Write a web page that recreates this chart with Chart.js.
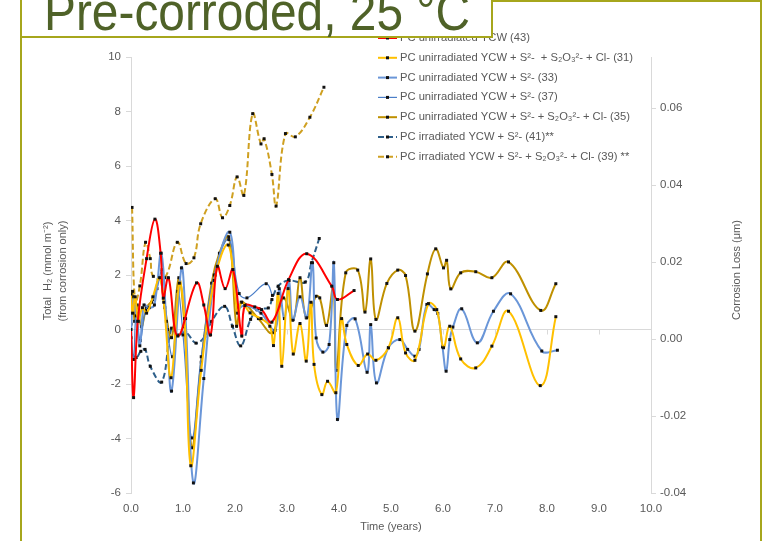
<!DOCTYPE html>
<html><head><meta charset="utf-8">
<script src="https://cdn.jsdelivr.net/npm/chart.js@4"></script>
<style>
html,body{margin:0;padding:0;background:#fff;overflow:hidden}
#wrap{position:relative;width:765px;height:541px;overflow:hidden}
canvas{position:absolute;left:0;top:0}
#frame{position:absolute;left:20px;top:0px;width:742px;height:620px;border:2px solid #A6A61C;box-sizing:border-box;z-index:1}
#tbox{position:absolute;left:20px;top:-40px;width:473px;height:78px;border:2px solid #A6A61C;background:#fff;box-sizing:border-box;z-index:2}
#title{position:absolute;left:44px;top:-16px;font-family:"Liberation Sans",Arial,sans-serif;font-size:54px;line-height:54px;color:#4F6228;white-space:nowrap;z-index:3;transform-origin:0 0}
</style></head>
<body><div id="wrap">
<canvas id="c" width="765" height="541"></canvas>
<div id="frame"></div>
<div id="tbox"></div>
<div id="title">Pre-corroded, 25 °C</div>
</div>
<script>
// ---- data (time in years, total H2 in mmol m-2) ----
const t43 = [0.0,0.05,0.13,0.3,0.46,0.57,0.62,0.72,0.9,1.26,1.4,1.53,1.66,1.81,1.96,2.13,2.19,2.38,2.51,2.71,3.03,3.38,3.86,3.97,4.29];
const h43 = [0.0,-2.5,0.3,2.6,4.05,2.8,1.15,1.9,-0.24,1.71,0.9,-0.2,2.32,1.5,2.2,-0.24,0.88,0.83,0.73,0.27,1.83,2.78,1.59,1.1,1.43];

const t31 = [0.0,0.03,0.08,0.14,0.22,0.3,0.42,0.55,0.63,0.77,0.93,1.03,1.15,1.35,1.6,1.87,2.05,2.13,2.29,2.5,2.67,2.74,2.83,2.9,3.02,3.12,3.25,3.37,3.46,3.52,3.67,3.78,3.94,4.05,4.15,4.37,4.55,4.71,4.95,5.13,5.28,5.46,5.72,5.88,6.01,6.13,6.34,6.63,6.94,7.26,7.87,8.17];
const h31 = [1.3,0.6,1.2,0.3,0.8,0.6,1.2,1.9,1.0,-1.77,1.7,0.4,-5.0,-1.5,1.8,3.1,0.6,1.0,0.61,0.4,0.12,-0.59,1.32,-1.35,1.5,-0.9,0.22,-1.16,1.0,-1.28,-2.39,-1.9,-2.32,0.4,-0.55,-1.32,-0.9,-1.13,-0.67,0.43,-0.86,-1.13,0.95,0.73,-0.67,0.12,-1.08,-1.41,-0.61,0.67,-2.06,0.47];

const t33 = [0.0,0.04,0.1,0.17,0.25,0.35,0.45,0.58,0.68,0.78,0.97,1.05,1.2,1.4,1.62,1.9,2.06,2.2,2.5,2.77,2.85,2.95,3.04,3.11,3.25,3.38,3.49,3.56,3.69,3.81,3.9,3.97,4.15,4.31,4.54,4.61,4.72,4.95,5.17,5.32,5.46,5.54,5.69,5.83,5.9,5.99,6.06,6.13,6.19,6.36,6.66,6.97,7.3,7.9,8.2];
const h33 = [-0.3,1.2,0.5,-0.6,0.9,0.8,0.9,2.8,0.3,-2.26,2.26,0.4,-5.63,-1.8,2.0,3.57,0.8,0.9,0.6,-0.03,1.5,0.4,1.8,0.34,1.2,0.43,2.45,-0.31,-0.83,-0.55,2.45,-3.3,0.15,0.39,-1.57,0.18,-1.96,-0.67,-0.37,-0.73,-0.98,-0.73,0.92,0.73,0.59,-0.64,-1.53,-0.37,0.09,0.76,-0.49,0.67,1.31,-0.79,-0.76];

const t37 = [0.0,0.05,0.1,0.18,0.28,0.4,0.5,0.6,0.7,0.8,0.9,1.0,1.17,1.35,1.6,1.88,2.08,2.23,2.6,2.72];
const h37 = [0.2,-1.1,0.6,-0.4,0.7,1.0,1.5,2.2,0.0,-1.0,1.4,-0.2,-3.98,-1.0,2.0,3.3,1.32,1.16,1.68,1.25];

const t35 = [0.0,0.03,0.07,0.12,0.2,0.3,0.42,0.55,0.65,0.78,0.92,1.03,1.17,1.35,1.55,1.7,1.88,2.03,2.12,2.23,2.45,2.72,2.93,3.12,3.25,3.37,3.56,3.63,3.76,3.89,3.95,4.13,4.36,4.5,4.61,4.71,4.92,5.13,5.28,5.46,5.7,5.86,6.01,6.07,6.15,6.34,6.63,6.94,7.26,7.88,8.17];
const h35 = [0.8,1.4,0.3,0.9,0.1,0.8,1.1,1.9,0.8,-0.3,1.9,0.1,-4.34,-1.2,1.7,2.8,3.4,0.12,1.0,0.88,0.4,-0.12,1.16,0.37,1.9,0.43,1.22,1.16,0.15,1.59,-1.5,2.08,2.18,0.64,2.59,0.37,1.69,2.18,1.98,-0.06,2.04,2.96,2.26,2.54,1.49,2.08,2.12,1.9,2.48,0.7,1.68];

const t41 = [0.0,0.1,0.19,0.27,0.37,0.59,0.78,0.9,1.05,1.25,1.42,1.55,1.8,1.95,2.11,2.3,2.45,2.64,2.71,2.83,3.03,3.35,3.47,3.62];
const h41 = [-0.85,-1.03,-0.8,-0.73,-1.35,-1.93,0.05,-0.2,-0.1,-0.5,-0.25,0.3,0.85,0.12,-0.6,0.37,0.76,0.79,1.1,1.59,1.8,1.74,2.45,3.34];

const t39 = [0.02,0.08,0.17,0.28,0.37,0.43,0.65,0.89,1.06,1.21,1.34,1.62,1.76,1.9,2.04,2.17,2.34,2.5,2.56,2.71,2.79,2.97,3.16,3.44,3.71];
const h39 = [4.48,1.0,1.6,3.2,2.6,1.95,1.9,3.2,2.42,2.63,3.88,4.8,4.1,4.55,5.6,4.92,7.92,6.81,7.0,5.69,4.53,7.19,7.07,7.79,8.89];

const seriesLabels = [
  "PC unirradiated YCW (43)",
  "PC unirradiated YCW + S²-  + S₂O₃²- + Cl- (31)",
  "PC unirradiated YCW + S²- (33)",
  "PC unirradiated YCW + S²- (37)",
  "PC unirradiated YCW + S²- + S₂O₃²- + Cl- (35)",
  "PC irradiated YCW + S²- (41)**",
  "PC irradiated YCW + S²- + S₂O₃²- + Cl- (39) **"
];
const xTicks = [0,1,2,3,4,5,6,7,8,9,10];
const yTicks = [-6,-4,-2,0,2,4,6,8,10];
const y2Ticks = [-0.04,-0.02,0,0.02,0.04,0.06];
const xTitle = "Time (years)";
const yTitle = ["Total  H₂ (mmol m⁻²)", "(from corrosion only)"];
const y2Title = "Corrosion Loss (μm)";

// ---- title width fit ----
(function () {
  const el = document.getElementById('title');
  const w = el.getBoundingClientRect().width;
  el.style.transform = 'scaleX(' + (426 / w) + ')';
})();

// ---- build ----
const pts = (t, h) => t.map((x, i) => ({x: x, y: h[i]}));
const styles = [
  {c:'#FF0000', w:2, d:[]},
  {c:'#FFC000', w:2, d:[]},
  {c:'#6A96D8', w:2, d:[]},
  {c:'#4A7EC8', w:1.2, d:[]},
  {c:'#BF9000', w:2, d:[]},
  {c:'#2E5F8A', w:2, d:[6,3]},
  {c:'#CFA021', w:2, d:[6,3]}
];
const raw = [[t43,h43],[t31,h31],[t33,h33],[t37,h37],[t35,h35],[t41,h41],[t39,h39]];
const datasets = raw.map((r, i) => ({
  label: seriesLabels[i],
  data: pts(r[0], r[1]),
  borderColor: styles[i].c,
  borderWidth: styles[i].w,
  borderDash: styles[i].d,
  pointStyle: 'rect',
  pointRadius: 2.1,
  pointBackgroundColor: '#111',
  pointBorderWidth: 0,
  tension: 0.4,
  fill: false,
  yAxisID: 'y'
}));

const TXT = '#595959', AX = '#D9D9D9';
const FONT = '"Liberation Sans", Arial, sans-serif';

const decor = {
  id: 'decor',
  beforeDatasetsDraw(chart) {
    const ctx = chart.ctx, xs = chart.scales.x, ys = chart.scales.y;
    const y0 = ys.getPixelForValue(0);
    ctx.save();
    ctx.strokeStyle = AX; ctx.lineWidth = 1;
    xTicks.forEach(v => {
      const px = Math.round(xs.getPixelForValue(v)) + 0.5;
      ctx.beginPath(); ctx.moveTo(px, y0); ctx.lineTo(px, y0 + 5); ctx.stroke();
    });
    ctx.restore();
  },
  afterDraw(chart) {
    const ctx = chart.ctx, a = chart.chartArea;
    ctx.save();
    ctx.fillStyle = TXT;
    ctx.textAlign = 'center'; ctx.textBaseline = 'middle';
    ctx.font = '11px ' + FONT;
    ctx.fillText(xTitle, (a.left + a.right) / 2, 527);
    ctx.save(); ctx.translate(48, 271); ctx.rotate(-Math.PI / 2);
    ctx.fillText(yTitle[0], 0, 0); ctx.restore();
    ctx.save(); ctx.translate(63, 271); ctx.rotate(-Math.PI / 2);
    ctx.fillText(yTitle[1], 0, 0); ctx.restore();
    ctx.save(); ctx.translate(737, 270); ctx.rotate(-Math.PI / 2);
    ctx.fillText(y2Title, 0, 0); ctx.restore();
    // legend
    ctx.font = '11.2px ' + FONT;
    ctx.textAlign = 'left';
    chart.data.datasets.forEach((ds, i) => {
      const y = 38 + 19.8 * i;
      ctx.strokeStyle = ds.borderColor; ctx.lineWidth = ds.borderWidth;
      ctx.setLineDash(ds.borderDash || []);
      ctx.beginPath(); ctx.moveTo(378, y); ctx.lineTo(397, y); ctx.stroke();
      ctx.setLineDash([]);
      ctx.fillStyle = '#111'; ctx.fillRect(386, y - 1.5, 3, 3);
      ctx.fillStyle = TXT; ctx.fillText(ds.label, 400, y);
    });
    ctx.restore();
  }
};

new Chart(document.getElementById('c'), {
  type: 'line',
  data: { datasets: datasets },
  options: {
    responsive: false, devicePixelRatio: 1, animation: false,
    layout: { padding: { top: 57, left: 0, right: 0, bottom: 0 } },
    plugins: { legend: { display: false }, tooltip: { enabled: false } },
    scales: {
      x: {
        type: 'linear', min: 0, max: 10,
        afterBuildTicks: s => { s.ticks = xTicks.map(v => ({value: v})); },
        ticks: { callback: v => v.toFixed(1), color: TXT, font: { family: FONT, size: 11.5 }, padding: 9, maxRotation: 0 },
        grid: { display: false, drawTicks: false },
        border: { display: false },
        afterFit: s => { s.height = 48; }
      },
      y: {
        position: 'left', min: -6, max: 10,
        afterBuildTicks: s => { s.ticks = yTicks.map(v => ({value: v})); },
        ticks: { color: TXT, font: { family: FONT, size: 11.5 }, padding: 5 },
        grid: { color: c => (c.tick && c.tick.value === 0) ? AX : 'rgba(0,0,0,0)', tickColor: AX, tickLength: 5, drawOnChartArea: true },
        border: { color: AX },
        afterFit: s => { s.width = 131; }
      },
      y2: {
        position: 'right', min: -0.04, max: 0.0733,
        afterBuildTicks: s => { s.ticks = y2Ticks.map(v => ({value: v})); },
        ticks: { callback: v => v.toFixed(2), color: TXT, font: { family: FONT, size: 11.5 }, padding: 4 },
        grid: { drawOnChartArea: false, tickColor: AX, tickLength: 5 },
        border: { color: AX },
        afterFit: s => { s.width = 114; }
      }
    }
  },
  plugins: [decor]
});
</script>
</body></html>
